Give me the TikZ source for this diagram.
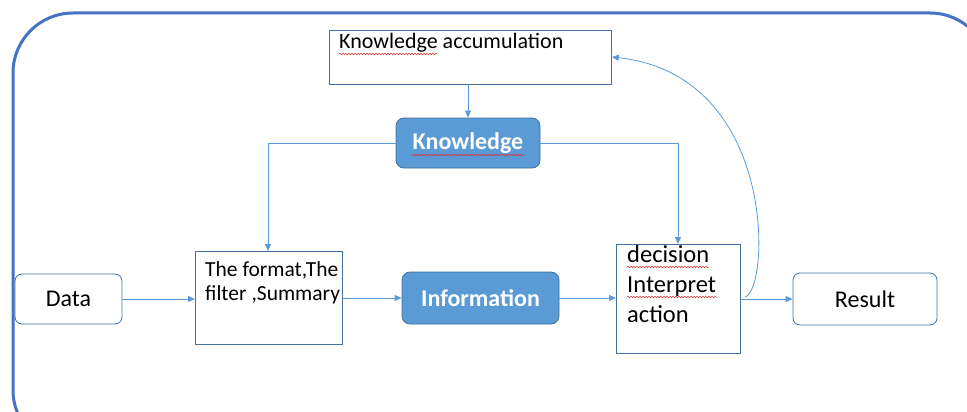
\documentclass[tikz,border=0pt]{standalone}
\usepackage{fontspec}
\setmainfont{Carlito}
\usetikzlibrary{arrows.meta,decorations.pathmorphing}
\definecolor{frameblue}{HTML}{4472C4}
\definecolor{lineblue}{HTML}{5B9BD5}
\definecolor{edgeblue}{HTML}{41719C}
\definecolor{fillblue}{HTML}{5B9BD5}
\definecolor{spellred}{HTML}{E03030}
\tikzset{
  plainbox/.style={draw=edgeblue, line width=0.8pt, fill=white},
  roundbox/.style={draw=edgeblue, line width=0.8pt, fill=white, rounded corners=7pt},
  bluebox/.style={draw=edgeblue, line width=0.8pt, fill=fillblue, rounded corners=8pt,
    text=white, font=\bfseries\fontsize{24}{28}\selectfont},
  flow/.style={draw=lineblue, line width=0.8pt, -{Triangle[length=7pt,width=6pt]}},
  label/.style={anchor=base west, inner sep=0pt, text=black},
  squiggle/.style={draw=spellred, line width=0.5pt,
    decorate, decoration={snake, amplitude=0.8pt, segment length=3pt}}
}
\begin{document}
\begin{tikzpicture}[x=1pt,y=-1pt]
\useasboundingbox (0,0) rectangle (967,412);
% outer frame, running past the right and bottom edges
\begin{scope}
\clip (0,0) rectangle (967,412);
\draw[frameblue, line width=3pt, rounded corners=60pt] (13,13) rectangle (990,450);
\end{scope}

% boxes
\node[plainbox, minimum width=282pt, minimum height=54pt, anchor=north west] (acc) at (329,30) {};
\node[bluebox, minimum width=144pt, minimum height=50pt] (know) at (468,143) {Knowledge};
\node[roundbox, minimum width=107pt, minimum height=50pt, font=\fontsize{24}{28}\selectfont] (data) at (68.5,299) {Data};
\node[plainbox, minimum width=147pt, minimum height=93pt, anchor=north west] (fmt) at (195,251) {};
\node[bluebox, minimum width=157pt, minimum height=52pt] (info) at (480.5,298) {Information};
\node[plainbox, minimum width=124pt, minimum height=109pt, anchor=north west] (dec) at (616,244) {};
\node[roundbox, minimum width=144pt, minimum height=52pt, font=\fontsize{24}{28}\selectfont] (res) at (865,299) {Result};

% texts set inside the plain boxes
\node[label, font=\fontsize{22}{26}\selectfont] (acct) at (339,49) {Knowledge accumulation};
\node[label, font=\fontsize{21.5}{24}\selectfont] (fmt1) at (205,276) {The format,The};
\node[label, font=\fontsize{21.5}{24}\selectfont] (fmt2) at (205,300) {filter ,Summary};
\node[label, font=\fontsize{24.5}{28}\selectfont] (dec1) at (627,262) {decision};
\node[label, font=\fontsize{24.5}{28}\selectfont] (dec2) at (627,292) {Interpret};
\node[label, font=\fontsize{24.5}{28}\selectfont] (dec3) at (627,322) {action};

% spell-check marks
\draw[squiggle] (339,54) -- (437,54);
\draw[squiggle] (412,155) -- (524,155);
\draw[squiggle] (627,267) -- (709,267);
\draw[squiggle] (627,297) -- (717,297);

% connectors
\draw[flow] (data.east) -- (fmt.west |- data.east);
\draw[flow] (fmt.east |- info.west) -- (info.west);
\draw[flow] (info.east) -- (dec.west |- info.east);
\draw[flow] (dec.east |- res.west) -- (res.west);
\draw[flow] (acc.south -| know.north) -- (know.north);
\draw[flow] (know.west) -| (268,251) coordinate (fmtin);
\draw[flow] (know.east) -| (678,244) coordinate (decin);
\coordinate (loopstart) at (745,297);
\draw[flow] (loopstart) .. controls (770,290) and (778,75) .. (acc.east |- 0,57);
\end{tikzpicture}
\end{document}
